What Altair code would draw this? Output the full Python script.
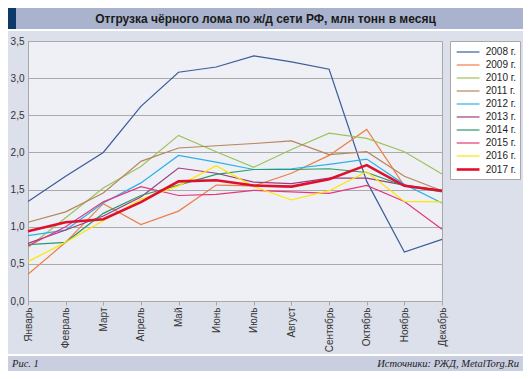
import altair as alt
import pandas as pd

months = ["Январь", "Февраль", "Март", "Апрель", "Май", "Июнь", "Июль",
          "Август", "Сентябрь", "Октябрь", "Ноябрь", "Декабрь"]
years = ["2008 г.", "2009 г.", "2010 г.", "2011 г.", "2012 г.",
         "2013 г.", "2014 г.", "2015 г.", "2016 г.", "2017 г."]
colors = ["#3B5C9A", "#EE7E45", "#9CC35A", "#B5865C", "#2BB1E8",
          "#9A3C80", "#2E9A6B", "#E5377E", "#FFE500", "#E0102D"]
widths = [1.2, 1.2, 1.2, 1.2, 1.2, 1.2, 1.2, 1.2, 1.2, 2.6]

v2008 = [1.34, 1.68, 2.00, 2.62, 3.08, 3.15, 3.30, 3.22, 3.12, 1.61, 0.66, 0.83]
v2009 = [0.36, 0.79, 1.31, 1.03, 1.21, 1.56, 1.55, 1.72, 1.96, 2.31, 1.55, 1.49]
v2010 = [0.72, 1.12, 1.52, 1.81, 2.23, 2.01, 1.80, 2.04, 2.26, 2.19, 2.01, 1.71]
v2011 = [1.06, 1.20, 1.455, 1.88, 2.06, 2.09, 2.12, 2.155, 1.97, 2.01, 1.68, 1.485]
v2012 = [0.88, 0.955, 1.32, 1.59, 1.96, 1.87, 1.77, 1.78, 1.84, 1.91, 1.57, 1.32]
v2013 = [0.775, 0.955, 1.145, 1.40, 1.79, 1.72, 1.60, 1.58, 1.655, 1.655, 1.56, 1.485]
v2014 = [0.76, 0.79, 1.18, 1.42, 1.56, 1.705, 1.77, 1.77, 1.78, 1.73, 1.55, 1.47]
v2015 = [0.74, 1.00, 1.335, 1.54, 1.42, 1.435, 1.49, 1.47, 1.45, 1.555, 1.34, 0.965]
v2016 = [0.53, 0.79, 1.08, 1.37, 1.55, 1.82, 1.54, 1.36, 1.485, 1.74, 1.34, 1.335]
v2017 = [0.94, 1.06, 1.10, 1.33, 1.61, 1.625, 1.555, 1.54, 1.64, 1.83, 1.55, 1.485]

series = [v2008, v2009, v2010, v2011, v2012, v2013, v2014, v2015, v2016, v2017]

rows = []
for yr, vals in zip(years, series):
    for m, v in zip(months, vals):
        rows.append({"month": m, "year": yr, "value": v})
df = pd.DataFrame(rows)

title_text = "Отгрузка чёрного лома по ж/д сети РФ, млн тонн в месяц"
fig_text = "Рис. 1"
src_text = "Источники: РЖД, MetalTorg.Ru"

W, H = 414, 260
PL, PT = 20, 33
CW, CH = 515, 363

leg = alt.Legend(
    title=None, orient="none", legendX=422, legendY=0,
    fillColor="white", strokeColor="#A8A8A8", padding=4,
    symbolType="M-0.8,0H3", symbolSize=144, rowPadding=1,
    labelOffset=16.7, labelFontSize=10, labelFont="Liberation Sans",
    labelColor="#222222",
)

lines = alt.Chart(df).mark_line().encode(
    x=alt.X("month:N", sort=months,
            scale=alt.Scale(type="point", domain=months, padding=0),
            axis=alt.Axis(title=None, labelAngle=270, labelAlign="right",
                          labelBaseline="middle", labelPadding=2, tickSize=4,
                          labelFontSize=10, grid=False)),
    y=alt.Y("value:Q", scale=alt.Scale(domain=[0, 3.5], nice=False),
            axis=alt.Axis(title=None, values=[0, 0.5, 1, 1.5, 2, 2.5, 3, 3.5],
                          labelExpr="replace(format(datum.value, '.1f'), '.', ',')",
                          ticks=False, labelPadding=4, grid=True, labelFontSize=10)),
    color=alt.Color("year:N", scale=alt.Scale(domain=years, range=colors), legend=leg),
    strokeWidth=alt.StrokeWidth("year:N", scale=alt.Scale(type="ordinal", domain=years, range=widths), legend=leg),
)

one = pd.DataFrame({"a": [0]})

def box(x1, x2, y1, y2, color):
    return alt.Chart(one).mark_rect(color=color).encode(
        x=alt.value(x1), x2=alt.value(x2), y=alt.value(y1), y2=alt.value(y2))

title_bar = box(-PL, CW - PL, -PT, -12, "#A9B3CD")
dark_sq = box(-PL, -PL + 8, -PT, -12, "#0E3A6A")
white1 = box(-PL, CW - PL, -12, -10, "#FFFFFF")
white2 = box(-PL, CW - PL, H + 53, H + 55, "#FFFFFF")
footer = box(-PL, CW - PL, H + 55, CH - PT, "#C9CFE0")

title = alt.Chart(one).mark_text(
    text=title_text, font="Liberation Sans", fontSize=12, fontWeight="bold",
    color="#1A1A1A", align="center", baseline="middle").encode(
    x=alt.value(CW / 2 - PL), y=alt.value(-PT + 10.5))
ftl = alt.Chart(one).mark_text(
    text=fig_text, font="Liberation Serif", fontSize=10.5, fontStyle="italic",
    color="#222222", align="left", baseline="middle").encode(
    x=alt.value(-PL + 4), y=alt.value(H + 62.5))
ftr = alt.Chart(one).mark_text(
    text=src_text, font="Liberation Serif", fontSize=10.5, fontStyle="italic",
    color="#222222", align="right", baseline="middle").encode(
    x=alt.value(CW - PL - 4), y=alt.value(H + 62.5))

chart = alt.layer(title_bar, dark_sq, white1, white2, footer, title, ftl, ftr, lines).properties(
    width=W, height=H,
    padding={"left": PL, "top": PT, "right": CW - PL - W, "bottom": CH - PT - H},
    autosize=alt.AutoSizeParams(type="none"),
    background="#DCE0EA",
).configure_view(
    stroke="#A8A8A8", fill="#EEF0F5"
).configure_axis(
    domainColor="#A8A8A8", tickColor="#A8A8A8", gridColor="#ABABAB",
    labelColor="#333333", labelFont="Liberation Sans",
)

chart.save("out.html", embed_options={"renderer": "svg", "actions": False})
